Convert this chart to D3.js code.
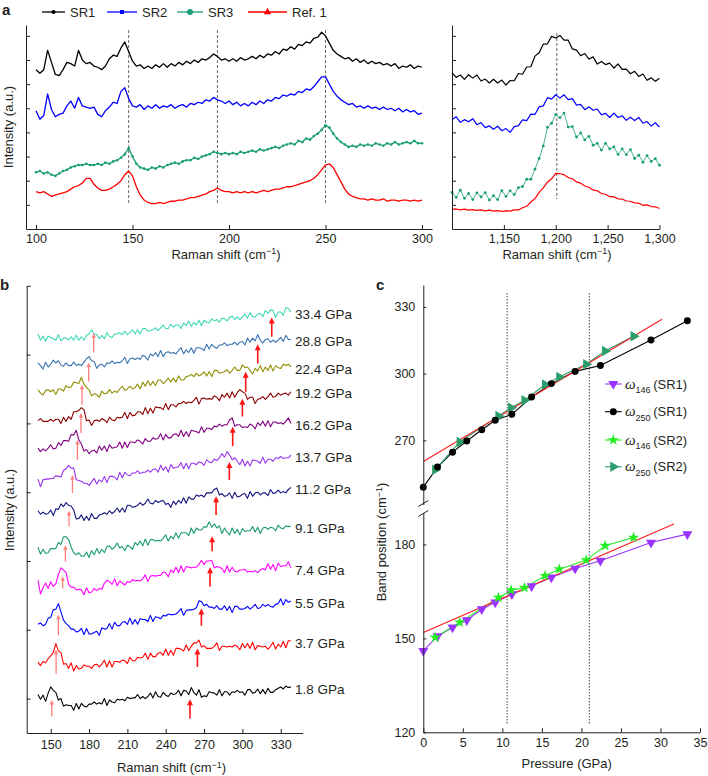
<!DOCTYPE html>
<html><head><meta charset="utf-8">
<script src="https://cdn.jsdelivr.net/npm/d3@7/dist/d3.min.js"></script>
<style>html,body{margin:0;padding:0;background:#fff;}svg{display:block;}</style>
</head><body>
<svg id="fig" width="708" height="776"></svg>
<script>
// ================= DATA =================
// Panel a (left): Raman shift 100..300 cm-1, step 2
const shiftAL = d3.range(100, 301, 2);
const aL_SR1 = [66,64.5,66,74,69,64,63.5,66,69,68.5, 67.5,74,70,68.5,69,67.5,67,66,67.5,70.5, 72,71.5,75,77.5,73.5,69.5,67.5,68,66.5,67.5, 66.5,68,67,68.5,67,68.5,67.5,69,68,69.5, 68.5,70,69,70.5,70,71,72.5,71.5,70,70.5, 69.5,70.5,69.5,71,70,70.5,71.5,70.5,72,71, 72.5,72,73.5,72.5,74.5,74,75.5,74.5,76.5,76, 77.5,77,79,79.5,81.5,80,77,74,72.5,71.5, 70.5,71,69.5,70.5,69,70,68.5,69.5,68.5,69, 68,68.5,67.5,68.5,66.5,67.5,67,68,66.5,67.5, 67];
const aL_SR2 = [49,45.5,47,56,49.5,46.5,47.5,48,51,53, 50,54.5,51,50.5,50,50.5,47.5,46.5,49,50.5, 52.5,52,57,58.5,54,51,50.5,51.5,49.5,51, 50,51.5,50,51,50.5,51.5,50,51,51.5,50.5, 52,51.5,52.5,52,53.5,53,54.5,53.5,53,52, 53,51.5,52.5,51,52,51,52.5,51.5,53,52, 53.5,53,54.5,54,55.5,55,56,55.5,57,56.5, 58,57.5,59,61,63,63,60,57,55,53.5, 52.5,51.5,52,50.5,51,50,51,50,50.5,49.5, 50.5,49.5,50,49,50,48.5,49.5,48.5,49,47.5, 48];
const aL_SR3 = [23.5,24,23,23.5,22.5,22,23,24,24.5,25.5, 26,26.5,26.5,27,26.5,26.5,27,26.5,27.5,27, 28,28.5,29.5,31,33.5,30,27,25.5,25,24.5, 25.5,25,26,25.5,26.5,27,27.5,27,28,28.5, 28.5,29.5,29,30,30.5,31,32,31.5,31,31.5, 31,31.5,31,32,31.5,32,32.5,32,33,32.5, 33,33.5,34,33.5,34.5,35,35.5,35,36.5,36, 37.5,37,38.5,39.5,41,43,42,39.5,37.5,36, 35,34,34.5,34,35,34.5,35,34.5,35.5,35, 34.5,35.5,35,36,35,35.5,36,35.5,36.5,35.5, 35.5];
const aL_Ref = [15.5,15,15.5,14.5,13.5,14,14.5,15,15.5,16.5, 17.5,18,19,21,21,18.5,17,16,16,16.5, 17.5,18.5,20,22.5,24,22,17.5,14,12,11, 10.5,10.5,11,10.5,11,11.5,11.5,12,12,12.5, 13,13,13.5,14,14.5,15.5,16,17,16,15.5, 15.5,15,15.5,15,15.5,15,15.5,15,15.5,16, 15.5,16,16.5,16.5,17,17.5,17.5,18,18.5,19, 19.5,20,21,22.5,24.5,26.5,27,25.5,22.5,19.5, 16.5,14.5,13.5,13,12.5,12.5,12,12.5,12,12, 12.5,11.5,12,12,11.5,12,12,11.5,12,11.5, 12];
const aTicksL = [100,150,200,250,300];
const aGuidesL = [148,194,250];

// Panel a (right): Raman shift 1100..1300 cm-1, step 4
const shiftAR = d3.range(1100, 1301, 4);
const aR_SR1 = [64.8,62.8,63.8,62.0,63.9,62.5,63.8,61.3,62.1,60.5, 62.0,60.5,61.7,59.6,61.5,61.4,64.4,64.1,67.1,67.2, 71.6,73.0,76.6,76.7,79.8,79.1,80.2,78.2,78.2,74.6, 74.1,71.8,72.7,70.4,71.3,68.3,69.4,68.1,68.7,66.6, 68.4,66.1,66.2,64.3,65.3,63.2,64.2,61.6,62.6,61.2, 62.4];
const aR_SR2 = [45.3,46.5,44.2,45.3,44.4,45.7,43.2,44.1,42.0,42.7, 41.3,42.6,40.7,41.6,40.0,42.4,42.8,45.2,44.9,47.6, 47.5,50.6,51.0,54.4,53.8,55.6,54.2,55.6,53.6,54.0, 51.3,51.6,49.4,50.6,49.2,49.7,47.3,47.9,46.2,48.0, 46.2,46.9,45.0,46.3,44.9,46.2,43.8,44.5,42.6,44.0, 42.2];
const aR_SR3 = [15.2,13.1,16.1,12.7,14.7,12.2,15.0,13.3,15.1,12.0, 13.8,12.2,15.9,13.5,15.8,14.3,17.1,17.6,20.6,20.6, 24.8,29.2,34.4,42.1,43.8,47.4,46.1,48.0,42.2,42.4, 38.1,39.8,36.9,38.4,34.7,35.5,32.7,35.5,33.2,34.0, 30.9,33.2,30.8,32.9,29.2,30.6,27.7,30.4,28.0,29.1, 26.4];
const aR_Ref = [8.1,8.3,7.9,8.2,7.8,8.0,7.7,7.9,7.5,7.8, 7.4,7.6,7.3,7.5,7.4,7.9,7.9,8.8,9.4,11.2, 12.6,15.2,17.0,19.4,20.8,23.0,22.9,22.5,21.3,20.8, 19.5,19.0,17.8,17.3,16.2,15.8,14.7,14.4,13.4,13.3, 12.5,12.4,11.6,11.5,10.8,10.7,9.8,10.0,9.3,9.2, 8.5];
const aTicksR = [1150,1200,1250,1300];
const aGuidesR = [1201];
const aSeriesNames = ["SR1","SR2","SR3","Ref. 1"];

// Panel b: Raman shift 140..338 cm-1, step 2
const shiftB = d3.range(140, 339, 2);
const b18 = [5.6,4.9,5.5,4.6,5.8,6.7,6.2,5.9,4.8,5.0, 3.9,4.1,4.0,4.0,3.3,4.3,3.5,4.3,3.9,3.8, 4.2,4.2,4.5,4.2,4.4,4.2,5.0,4.0,4.8,4.5, 4.4,4.9,4.8,4.9,4.7,5.2,5.0,5.1,5.1,5.6, 5.0,5.3,5.0,5.3,5.8,5.1,6.0,5.3,5.2,5.9, 5.5,5.3,5.8,5.6,5.7,6.2,5.4,6.2,6.1,5.6, 6.6,5.9,5.5,6.3,5.2,5.4,5.3,6.0,5.9,5.8, 5.5,6.3,5.4,6.0,6.0,5.5,6.0,5.9,6.2,5.9, 6.0,5.5,6.3,6.3,5.8,5.9,6.4,5.7,6.3,5.7, 6.5,5.9,5.9,6.3,6.5,6.7,6.4,6.8,6.6,6.7];
const b37 = [10.3,9.8,10.4,10.2,10.8,11.2,11.7,13.0,11.9,11.7, 10.0,10.1,9.4,10.2,9.0,9.8,9.3,9.4,9.9,9.7, 9.7,9.4,9.9,10.0,9.6,10.0,10.6,9.6,10.5,9.6, 10.4,10.4,10.3,10.6,10.5,10.1,11.0,10.5,10.5,11.0, 10.9,11.0,11.6,10.7,11.6,11.1,11.1,11.6,11.7,11.3, 12.2,11.3,12.0,11.3,12.3,12.3,12.2,11.9,12.8,12.0, 12.6,13.1,13.1,13.5,12.5,12.7,12.3,12.3,12.3,12.6, 13.1,12.0,12.6,12.6,12.5,12.6,12.5,12.8,12.6,12.1, 13.0,12.4,13.0,12.3,13.2,12.1,12.7,12.6,12.5,12.6, 12.2,12.6,13.2,12.2,12.9,12.5,13.3,12.4,13.4,13.4];
const b55 = [15.8,16.0,15.6,15.8,16.7,16.8,17.9,18.0,18.8,17.6, 16.4,15.9,15.6,15.1,15.1,14.7,14.8,15.2,14.3,15.2, 14.4,14.4,14.6,14.8,14.2,15.3,15.1,15.2,15.9,15.1, 16.1,15.6,15.6,16.1,16.2,15.8,16.7,15.8,16.5,15.8, 16.6,16.5,16.5,16.2,17.1,16.2,16.9,16.8,16.6,17.1, 17.0,17.3,17.2,17.2,17.3,17.6,18.1,17.1,17.8,17.9, 17.9,18.0,18.2,19.2,19.1,18.5,18.7,18.3,18.3,18.1, 18.5,18.0,18.0,18.5,17.8,18.4,17.5,18.4,18.4,18.0, 18.0,18.1,18.4,18.0,18.3,18.7,18.1,18.2,18.7,18.4, 18.7,18.4,18.3,18.7,18.8,19.5,18.6,19.4,19.0,19.2];
const b74 = [22.2,20.2,21.1,21.8,21.0,22.0,21.3,21.7,23.0,24.0, 23.7,23.3,21.6,21.2,21.2,20.8,20.9,20.8,20.1,21.1, 20.4,20.5,21.0,20.7,21.0,20.9,21.8,22.2,22.0,21.6, 22.4,21.4,22.1,21.8,21.5,22.0,21.9,22.3,22.1,22.2, 22.1,22.4,23.0,22.0,22.8,22.9,22.8,22.9,22.9,23.4, 23.3,22.7,23.7,23.3,24.1,23.3,24.3,23.4,24.2,24.1, 24.0,24.1,24.1,24.5,25.1,24.5,25.0,25.0,25.1,24.0, 24.2,24.1,23.9,23.3,24.3,23.4,24.1,23.5,23.4,23.7, 23.7,23.8,23.4,23.5,23.4,23.6,23.3,23.7,23.9,23.7, 24.6,23.8,24.5,23.6,24.7,24.2,24.3,24.3,24.9,24.0];
const b91 = [27.0,26.0,26.7,26.1,26.2,26.8,26.8,26.8,27.7,27.4, 28.5,28.5,28.1,27.0,26.2,25.9,26.2,25.7,25.7,26.3, 25.5,26.5,25.9,26.8,26.1,26.7,26.2,27.1,27.2,26.7, 27.0,27.6,26.9,27.1,26.5,27.3,27.1,26.7,27.7,27.3, 27.9,27.2,28.2,27.3,28.1,28.1,27.9,28.0,27.9,28.3, 28.8,27.9,28.6,28.2,29.1,28.3,29.1,29.1,29.1,28.7, 29.8,29.0,29.8,29.5,29.5,30.0,29.9,30.7,29.9,30.4, 29.8,30.1,29.0,29.8,29.2,28.8,29.8,29.0,29.6,28.8, 29.7,29.3,29.4,29.4,30.0,29.2,29.9,29.0,29.8,29.9, 29.6,29.9,29.8,29.4,30.2,29.8,29.7,30.1,30.0,30.1];
const b112 = [32.3,31.8,32.1,31.8,31.9,32.4,31.6,32.6,32.5,33.3, 32.9,33.5,33.1,33.0,32.4,31.1,31.2,31.7,30.9,31.5, 30.9,31.9,31.2,31.2,31.7,31.8,32.0,31.8,32.3,31.9, 32.2,32.7,32.1,32.7,32.1,33.1,33.1,32.8,32.9,33.1, 33.5,33.1,33.4,34.0,33.4,33.3,33.8,33.5,33.7,33.8, 33.2,33.4,32.8,33.7,33.2,33.8,33.4,34.2,33.4,34.3, 34.0,34.0,34.6,34.4,34.6,34.3,34.9,34.9,34.9,35.4, 35.6,34.6,34.8,34.4,34.5,34.9,34.1,35.0,34.3,34.4, 34.7,34.8,34.1,35.1,34.4,34.9,35.0,34.6,34.9,34.9, 34.5,35.4,34.8,34.9,35.3,34.9,35.1,34.9,35.4,35.7];
const b137 = [36.9,35.8,36.8,36.9,36.9,37.0,37.0,37.4,37.3,37.2, 38.2,38.4,38.9,38.5,38.5,36.8,36.7,36.6,36.3,36.3, 36.0,36.5,37.0,36.2,36.8,36.5,37.3,36.4,37.3,37.3, 37.2,36.8,37.9,37.1,37.9,37.5,37.4,37.8,37.8,38.1, 37.7,37.9,37.9,38.2,37.9,38.3,38.4,37.9,38.9,38.2, 38.7,37.9,39.0,38.5,38.6,38.7,39.3,38.4,39.2,38.4, 39.2,39.2,39.0,39.4,39.3,38.9,39.7,39.4,39.3,39.8, 39.6,40.0,40.6,40.1,40.9,40.4,39.7,40.0,39.5,39.0, 39.8,38.8,39.5,38.8,39.7,39.6,39.5,39.2,40.1,39.2, 39.8,39.8,39.5,40.0,39.9,40.2,39.9,40.0,40.0,40.4];
const b162 = [41.4,40.9,41.3,41.0,41.4,41.9,41.3,41.4,42.2,41.8, 42.5,42.5,42.4,43.4,43.3,44.0,42.6,42.0,41.0,41.2, 40.6,41.0,41.1,40.7,41.7,41.1,41.7,40.9,41.9,41.4, 41.5,41.6,42.3,41.4,42.3,41.5,42.3,42.3,42.2,42.6, 42.4,42.0,42.8,42.4,42.4,42.9,42.7,42.8,43.5,42.6, 43.4,42.9,42.9,43.4,43.5,43.1,44.0,43.1,43.8,43.1, 44.0,43.9,43.8,43.6,44.5,43.7,44.3,44.3,44.1,44.6, 44.5,44.9,44.6,44.8,44.8,45.5,45.8,44.6,44.8,44.8, 44.4,44.5,44.4,44.9,44.7,44.2,45.1,44.7,45.3,44.6, 45.4,44.5,45.2,45.2,45.0,45.1,44.9,45.3,45.8,45.0];
const b192 = [45.4,45.7,45.3,45.3,45.3,45.6,45.3,45.6,45.6,45.0, 45.9,45.3,46.0,45.6,46.7,46.7,46.9,47.3,47.0,45.4, 45.5,44.7,45.4,45.5,45.3,45.7,45.5,45.1,45.9,45.5, 45.4,45.9,45.8,45.9,46.6,45.7,46.6,46.1,46.2,46.7, 46.7,46.3,47.3,46.4,47.2,46.5,47.4,47.3,47.3,47.0, 47.9,47.0,47.7,47.7,47.4,47.9,47.9,48.2,47.9,48.1, 48.0,48.3,48.8,47.8,48.6,48.7,48.5,48.6,48.5,49.0, 48.8,48.3,49.2,48.8,49.4,48.7,49.6,48.8,49.5,49.9, 49.6,49.4,48.5,48.8,48.8,47.9,48.5,48.6,48.9,48.5, 48.9,49.4,48.8,48.9,49.4,49.1,49.3,49.4,49.1,49.6];
const b224 = [49.9,49.4,49.1,49.8,49.9,49.6,49.9,49.2,50.0,50.0, 49.7,50.5,50.2,50.3,51.0,50.9,50.8,51.7,50.7,50.2, 49.9,49.0,49.3,49.2,48.8,49.7,49.3,49.4,49.9,49.4, 49.7,49.5,50.0,50.4,49.8,50.0,50.4,50.0,50.2,50.7, 50.0,51.0,50.4,51.2,50.5,51.1,50.5,51.3,51.3,50.8, 51.1,51.6,51.0,51.6,51.0,51.9,51.3,51.3,51.8,51.9, 52.1,51.8,52.3,51.9,52.1,52.5,51.9,52.5,51.8,52.7, 52.7,52.3,52.4,52.5,52.8,52.3,52.7,53.2,52.7,52.7, 53.5,53.1,53.2,52.7,52.2,53.0,52.6,53.4,52.5,53.2, 52.7,53.5,52.6,53.4,53.1,53.0,53.6,53.4,53.6,53.2];
const b288 = [53.8,53.4,52.9,53.9,53.2,53.6,54.2,53.8,54.1,53.5, 53.3,53.8,53.4,53.4,53.9,53.4,53.6,53.4,53.9,54.4, 54.7,54.1,54.0,53.0,53.5,53.6,53.2,53.8,53.7,54.1, 53.7,53.9,53.8,54.1,54.6,53.7,54.4,54.5,54.3,54.5, 54.3,54.9,54.7,54.2,55.1,54.8,55.3,54.7,55.6,54.7, 55.3,55.4,55.2,55.3,55.1,55.6,56.0,55.1,55.7,55.3, 56.0,55.2,56.0,56.0,55.9,55.6,56.5,55.8,56.5,56.1, 55.9,56.4,56.4,56.7,56.3,56.5,56.5,56.8,56.4,56.8, 56.9,56.4,57.4,56.8,57.4,57.0,57.9,57.1,56.7,57.2, 57.3,56.8,57.1,56.8,57.1,57.5,56.9,57.8,57.2,57.2];
const b334 = [58.0,57.1,57.7,56.9,57.7,57.5,57.3,57.1,57.9,57.0, 57.4,57.4,57.1,57.6,57.1,57.8,57.1,57.6,57.1,57.8, 58.0,58.6,58.0,57.9,57.3,57.8,57.3,58.2,57.6,57.5, 58.0,58.0,58.2,57.9,58.4,57.9,58.2,58.6,58.0,58.6, 58.0,58.8,58.8,58.4,58.5,58.6,58.9,58.5,58.9,59.3, 58.8,58.8,59.4,59.0,59.3,59.3,58.8,59.6,59.2,59.9, 59.1,59.7,59.3,60.0,59.2,60.0,59.7,59.6,60.2,59.9, 60.1,59.7,60.3,60.2,59.9,60.4,60.6,60.1,60.5,60.1, 60.5,60.9,60.3,61.1,60.5,60.5,60.9,61.0,60.5,61.4, 61.0,61.5,61.4,60.4,61.2,61.2,60.7,61.8,61.7,61.2];
const bPressureLabels = ["1.8 GPa","3.7 GPa","5.5 GPa","7.4 GPa","9.1 GPa","11.2 GPa","13.7 GPa","16.2 GPa","19.2 GPa","22.4 GPa","28.8 GPa","33.4 GPa"];
const bTicks = [150,180,210,240,270,300,330];
const bYTicks = [5,15,25,35,45,55,65];
// arrows marking band positions (x in cm-1, tail/tip in intensity units)
const arrow146X    = [150.8,154.2,156,159.4,161.5,164.3,167,170.9,173.7,174.5,179.7,183.6];
const arrow146Tail = [2.4,8.6,14.2,21.0,24.9,30.0,34.9,39.7,43.6,47.7,51.1,55.3];
const arrow146Tip  = [4.8,12.1,17.2,22.8,27.3,32.3,37.5,42.6,46.5,50.6,53.8,58.1];
const arrow250X    = [259,264.8,267.9,274.7,276.3,279.4,289.8,292.4,300,302.6,312,323];
const arrow250Tail = [2.1,9.6,15.6,21.3,26.4,31.7,36.8,41.7,46.0,49.6,53.7,57.6];
const arrow250Tip  = [4.9,12.3,18.1,24.1,28.6,34.4,39.4,44.5,48.6,52.5,56.5,60.4];

// Panel c: band position vs pressure
const pSR1 = [0,1.8,3.7,5.5,7.4,9.1,11.2,13.7,16.2,19.2,22.4,28.8,33.4];
const w146SR1 = [146.0,150.7,153.5,155.8,159.3,161.5,164.1,166.7,169.5,172.3,174.8,180.6,183.3];
const w250SR1 = [249.0,258.0,264.7,269.7,274.8,279.0,281.7,289.5,295.5,301.0,303.6,315.1,323.7];
const pSR2 = [1.5,4.6,9.5,11.1,12.8,15.4,17.2,20.6,23.0,26.6];
const w146SR2 = [150.3,155.1,163.0,165.4,166.2,170.0,172.1,175.0,179.6,182.2];
const w250SR2 = [256.8,269.3,280.9,284.7,288.0,295.1,298.5,304.2,310.2,316.8];
const fitHighP = [0,30.2], fitHighW = [260.5,324.4];
const fitLowP = [0,31.7], fitLowW = [151.9,186.5];
const cTransitions = [10.6,21.0];
const cXTicks = [0,5,10,15,20,25,30,35];
const cYTicksHigh = [270,300,330];
const cYTicksLow = [120,150,180];
const cLegend = [["146","SR1"],["250","SR1"],["146","SR2"],["250","SR2"]];

// ================= DRAWING =================
const svg = d3.select("#fig");
const FONT = "'Liberation Sans', Arial, Helvetica, sans-serif";
const INK = "#231f20";
const TICKFS = 12.5;

function styleAxis(g){
  g.attr("font-family", FONT).attr("font-size", TICKFS);
  g.select(".domain").attr("stroke", INK).attr("stroke-width", 1);
  g.selectAll(".tick line").attr("stroke", INK);
  g.selectAll(".tick text").attr("fill", INK);
}
function drawLine(g, xs, vals, sx, sy, color, w){
  return g.append("path").datum(vals).attr("fill","none").attr("stroke",color)
    .attr("stroke-width",w).attr("stroke-linejoin","round")
    .attr("d", d3.line().x((d,i)=>sx(xs[i])).y(d=>sy(d)));
}
function ramanTitle(x, y){
  const t = svg.append("text").attr("x",x).attr("y",y).attr("text-anchor","middle")
    .attr("font-family",FONT).attr("font-size",13).attr("fill",INK);
  t.append("tspan").text("Raman shift (cm");
  t.append("tspan").attr("dy",-4.5).attr("font-size",9).text("\u22121");
  t.append("tspan").attr("dy",4.5).text(")");
}
function yTitle(x, y, parts){
  const t = svg.append("text").attr("transform",`translate(${x},${y}) rotate(-90)`)
    .attr("text-anchor","middle").attr("font-family",FONT).attr("font-size",13).attr("fill",INK);
  t.append("tspan").text(parts[0]);
  if (parts.length > 1){
    t.append("tspan").attr("dy",-4.5).attr("font-size",9).text(parts[1]);
    t.append("tspan").attr("dy",4.5).text(parts[2]);
  }
}
function panelLabel(txt, x, y){
  svg.append("text").attr("x",x).attr("y",y).attr("font-family",FONT).attr("font-weight","bold")
    .attr("font-size",15).attr("fill",INK).text(txt);
}

// ---------- Panel a ----------
const colA = ["#000000","#0000ff","#1a9c78","#ff0000"];
const yA = d3.scaleLinear().domain([0,84.5]).range([229,25]);
const xAL = d3.scaleLinear().domain([94.8,305.2]).range([26,432]);
const xAR = d3.scaleLinear().domain([1100,1300]).range([452,659.5]);

const gA = svg.append("g");
aGuidesL.forEach(s => gA.append("line").attr("x1",xAL(s)).attr("x2",xAL(s)).attr("y1",yA(82.4)).attr("y2",yA(10.8))
  .attr("stroke","#666").attr("stroke-width",1).attr("stroke-dasharray","3,2"));
aGuidesR.forEach(s => gA.append("line").attr("x1",xAR(s)).attr("x2",xAR(s)).attr("y1",yA(81.2)).attr("y2",yA(12.4))
  .attr("stroke","#666").attr("stroke-width",1).attr("stroke-dasharray","3,2"));

[aL_SR1,aL_SR2,aL_SR3,aL_Ref].forEach((v,i)=> drawLine(gA, shiftAL, v, xAL, yA, colA[i], 1.3));
[aR_SR1,aR_SR2,aR_SR3,aR_Ref].forEach((v,i)=> drawLine(gA, shiftAR, v, xAR, yA, colA[i], i===2 ? 0.8 : 1.2));
gA.selectAll(".dL").data(aL_SR3).enter().append("circle").attr("cx",(d,i)=>xAL(shiftAL[i])).attr("cy",d=>yA(d)).attr("r",1.3).attr("fill",colA[2]);
gA.selectAll(".dR").data(aR_SR3).enter().append("circle").attr("cx",(d,i)=>xAR(shiftAR[i])).attr("cy",d=>yA(d)).attr("r",1.4).attr("fill",colA[2]);

const aYTicks = [10,20,30,40,50,60,70,80];
svg.append("g").attr("transform","translate(0,229)")
  .call(d3.axisBottom(xAL).tickValues(aTicksL).tickSizeInner(-4).tickSizeOuter(0).tickPadding(5.5)).call(styleAxis);
svg.append("g").attr("transform","translate(26,0)")
  .call(d3.axisLeft(yA).tickValues(aYTicks).tickSizeInner(-4).tickSizeOuter(0).tickFormat("")).call(styleAxis);
svg.append("g").attr("transform","translate(0,229)")
  .call(d3.axisBottom(xAR).tickValues(aTicksR).tickFormat(d3.format(",")).tickSizeInner(-4).tickSizeOuter(0).tickPadding(5.5)).call(styleAxis);
svg.append("g").attr("transform","translate(452,0)")
  .call(d3.axisLeft(yA).tickValues(aYTicks).tickSizeInner(-4).tickSizeOuter(0).tickFormat("")).call(styleAxis);
ramanTitle(226, 258.5);
ramanTitle(557, 258.5);
yTitle(13, 127, ["Intensity (a.u.)"]);
panelLabel("a", 2, 15);

const legAx = [42,107,177,248], legAw = [23,30,26,39];
aSeriesNames.forEach((nm,i)=>{
  const x0 = legAx[i], x1 = legAx[i]+legAw[i], xm = (x0+x1)/2, y = 12;
  svg.append("line").attr("x1",x0).attr("x2",x1).attr("y1",y).attr("y2",y).attr("stroke",colA[i]).attr("stroke-width",1.3);
  const sym = [d3.symbolCircle, d3.symbolSquare, d3.symbolCircle, d3.symbolTriangle][i];
  const sz = [14, 16, 26, 24][i];
  svg.append("path").attr("d", d3.symbol(sym, sz)()).attr("transform",`translate(${xm},${y})`).attr("fill",colA[i]);
  svg.append("text").attr("x",x1+5).attr("y",y+4.6).attr("font-family",FONT).attr("font-size",13).attr("fill",INK).text(nm);
});

// ---------- Panel b ----------
const colB = ["#000000","#ff0000","#0000ff","#ff00ff","#1a9a70","#14147e","#9933ee","#800080","#8b0000","#8f8f00","#3a72b0","#3fd8b5"];
const bSeries = [b18,b37,b55,b74,b91,b112,b137,b162,b192,b224,b288,b334];
const xB = d3.scaleLinear().domain([131.2,347.2]).range([26.7,302.7]);
const yB = d3.scaleLinear().domain([0,65]).range([733,285.8]);
const gB = svg.append("g");
bSeries.forEach((v,i)=> drawLine(gB, shiftB, v, xB, yB, colB[i], 1.1));

function arrow(g, x, yTail, yTip, color, w, hw, hl){
  const X = xB(x), Yt = yB(yTail), Yp = yB(yTip);
  g.append("line").attr("x1",X).attr("x2",X).attr("y1",Yt).attr("y2",Yp+hl-1).attr("stroke",color).attr("stroke-width",w);
  g.append("path").attr("d",`M${X},${Yp}L${X-hw},${Yp+hl}L${X+hw},${Yp+hl}Z`).attr("fill",color);
}
arrow146X.forEach((x,i)=> arrow(gB, x, arrow146Tail[i], arrow146Tip[i], "#ff7d7d", 1.3, 2.2, 4.5));
arrow250X.forEach((x,i)=> arrow(gB, x, arrow250Tail[i], arrow250Tip[i], "#ff1414", 1.6, 3, 6));

bSeries.forEach((v,i)=>{
  svg.append("text").attr("x",295).attr("y",yB(v[v.length-1])+2).attr("dy","0.35em")
    .attr("font-family",FONT).attr("font-size",13.5).attr("fill",INK).text(bPressureLabels[i]);
});
svg.append("g").attr("transform","translate(0,733)")
  .call(d3.axisBottom(xB).tickValues(bTicks).tickSizeInner(-4).tickSizeOuter(0).tickPadding(7.5)).call(styleAxis);
svg.append("g").attr("transform","translate(26.7,0)")
  .call(d3.axisLeft(yB).tickValues(bYTicks).tickSizeInner(-4).tickSizeOuter(0).tickFormat("")).call(styleAxis);
ramanTitle(171.5, 772);
yTitle(14, 510, ["Intensity (a.u.)"]);
panelLabel("b", 0, 290);

// ---------- Panel c ----------
const xC = d3.scaleLinear().domain([0,35]).range([423.3,700]);
const yCU = d3.scaleLinear().domain([241.2,339.8]).range([504.5,285]);
const yCL = d3.scaleLinear().domain([120,190.2]).range([732.3,512.5]);
const cCol = {v:"#9933ff", k:"#000000", g:"#22ee22", s:"#2a9d6a", fit:"#ff1a1a"};
const gC = svg.append("g");
cTransitions.forEach(p => gC.append("line").attr("x1",xC(p)).attr("x2",xC(p)).attr("y1",293).attr("y2",725)
  .attr("stroke","#444").attr("stroke-width",1).attr("stroke-dasharray","1.5,1.5"));

function cLine(ps, ws, sy, color, w){
  gC.append("path").datum(ws).attr("fill","none").attr("stroke",color).attr("stroke-width",w)
    .attr("d", d3.line().x((d,i)=>xC(ps[i])).y(d=>sy(d)));
}
function cMarks(ps, ws, sy, color, sym, size, rot){
  gC.selectAll(null).data(ws).enter().append("path")
    .attr("d", d3.symbol(sym, size)())
    .attr("transform",(d,i)=>`translate(${xC(ps[i])},${sy(d)}) rotate(${rot})`)
    .attr("fill",color);
}
cLine(pSR1, w250SR1, yCU, cCol.k, 1.1);
cLine(pSR2, w250SR2, yCU, cCol.s, 1.1);
cLine(fitHighP, fitHighW, yCU, cCol.fit, 1.1);
cMarks(pSR2, w250SR2, yCU, cCol.s, d3.symbolTriangle, 48, 90);
cMarks(pSR1, w250SR1, yCU, cCol.k, d3.symbolCircle, 38, 0);
cLine(pSR1, w146SR1, yCL, cCol.v, 1.1);
cLine(pSR2, w146SR2, yCL, cCol.g, 1.1);
cLine(fitLowP, fitLowW, yCL, cCol.fit, 1.1);
cMarks(pSR1, w146SR1, yCL, cCol.v, d3.symbolTriangle, 44, 180);
cMarks(pSR2, w146SR2, yCL, cCol.g, d3.symbolStar, 40, 0);

svg.append("g").attr("transform","translate(0,732.3)")
  .call(d3.axisBottom(xC).tickValues(cXTicks).tickSizeInner(-4).tickSizeOuter(0).tickPadding(6)).call(styleAxis);
svg.append("g").attr("transform","translate(423.3,0)")
  .call(d3.axisLeft(yCU).tickValues(cYTicksHigh).tickSizeInner(-3).tickSizeOuter(0).tickPadding(8)).call(styleAxis);
svg.append("g").attr("transform","translate(423.3,0)")
  .call(d3.axisLeft(yCL).tickValues(cYTicksLow).tickSizeInner(-3).tickSizeOuter(0).tickPadding(8)).call(styleAxis);
[yCU.range()[0]-1, yCL.range()[1]+1].forEach(y => svg.append("line")
  .attr("x1",418.3).attr("x2",428.3).attr("y1",y+3).attr("y2",y-3).attr("stroke",INK).attr("stroke-width",1));

svg.append("text").attr("x",566.7).attr("y",768).attr("text-anchor","middle").attr("font-family",FONT)
  .attr("font-size",13).attr("fill",INK).text("Pressure (GPa)");
yTitle(386, 542, ["Band position (cm","\u22121",")"]);
panelLabel("c", 376, 290);

const legCY = [384, 411.7, 440, 466.7];
const legCSym = [[d3.symbolTriangle,44,180,cCol.v],[d3.symbolCircle,38,0,cCol.k],[d3.symbolStar,40,0,cCol.g],[d3.symbolTriangle,48,90,cCol.s]];
cLegend.forEach((e,i)=>{
  const y = legCY[i], s = legCSym[i];
  svg.append("line").attr("x1",605).attr("x2",621.7).attr("y1",y).attr("y2",y).attr("stroke",s[3]).attr("stroke-width",1.1);
  svg.append("path").attr("d",d3.symbol(s[0],s[1])()).attr("transform",`translate(613.3,${y}) rotate(${s[2]})`).attr("fill",s[3]);
  const t = svg.append("text").attr("x",625).attr("y",y+4.5).attr("font-family",FONT).attr("font-size",13).attr("fill",INK);
  t.append("tspan").attr("font-family","'Liberation Serif','DejaVu Serif',serif").attr("font-style","italic").attr("font-size",15).text("\u03c9");
  t.append("tspan").attr("dy",4.5).attr("font-size",9).text(e[0]);
  t.append("tspan").attr("dy",-4.5).attr("dx",2.5).text("(" + e[1] + ")");
});
</script>
</body></html>
